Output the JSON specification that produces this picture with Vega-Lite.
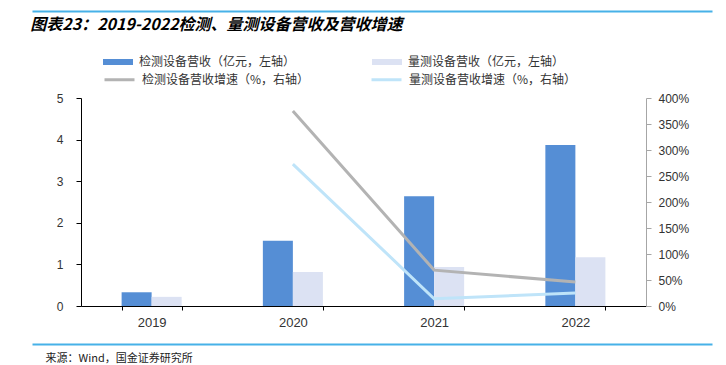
{
  "$schema": "https://vega.github.io/schema/vega-lite/v6.json",
  "width": 565,
  "height": 208,
  "autosize": "none",
  "padding": {"left": 81, "top": 98, "right": 80, "bottom": 59},
  "background": "white",
  "config": {"view": {"stroke": null}, "font": "Noto Sans CJK SC"},
  "title": {
    "text": "图表23：2019-2022检测、量测设备营收及营收增速",
    "anchor": "start",
    "font": "Noto Sans CJK SC",
    "fontSize": 16,
    "fontWeight": "bold",
    "fontStyle": "italic",
    "color": "#000000",
    "offset": 0,
    "dx": 1,
    "dy": 22
  },
  "datasets": {
    "bars": [
      {"year": "2019", "series": "检测设备营收（亿元，左轴）", "value": 0.33},
      {"year": "2019", "series": "量测设备营收（亿元，左轴）", "value": 0.22},
      {"year": "2020", "series": "检测设备营收（亿元，左轴）", "value": 1.57},
      {"year": "2020", "series": "量测设备营收（亿元，左轴）", "value": 0.82},
      {"year": "2021", "series": "检测设备营收（亿元，左轴）", "value": 2.64},
      {"year": "2021", "series": "量测设备营收（亿元，左轴）", "value": 0.94},
      {"year": "2022", "series": "检测设备营收（亿元，左轴）", "value": 3.87},
      {"year": "2022", "series": "量测设备营收（亿元，左轴）", "value": 1.17}
    ],
    "lines": [
      {"year": "2020", "series": "检测设备营收增速（%，右轴）", "growth": 3.75},
      {"year": "2021", "series": "检测设备营收增速（%，右轴）", "growth": 0.69},
      {"year": "2022", "series": "检测设备营收增速（%，右轴）", "growth": 0.46},
      {"year": "2020", "series": "量测设备营收增速（%，右轴）", "growth": 2.73},
      {"year": "2021", "series": "量测设备营收增速（%，右轴）", "growth": 0.14},
      {"year": "2022", "series": "量测设备营收增速（%，右轴）", "growth": 0.25}
    ],
    "frame": [{"p": 0}, {"p": 1}]
  },
  "layer": [
    {
      "layer": [
        {
          "data": {"name": "bars"},
          "mark": {"type": "bar"},
          "encoding": {
            "x": {
              "field": "year",
              "type": "nominal",
              "scale": {"paddingInner": 0.575, "paddingOuter": 0.2875},
              "axis": {
                "title": null,
                "labelAngle": 0,
                "labelFont": "Liberation Sans",
                "labelFontSize": 13,
                "labelColor": "#333333",
                "labelPadding": 6,
                "domainColor": "#000000",
                "tickColor": "#000000",
                "tickSize": 4,
                "tickBand": "extent",
                "grid": false
              }
            },
            "xOffset": {
              "field": "series",
              "sort": ["检测设备营收（亿元，左轴）", "量测设备营收（亿元，左轴）"],
              "scale": {"paddingInner": 0, "paddingOuter": 0}
            },
            "y": {
              "field": "value",
              "type": "quantitative",
              "scale": {"domain": [0, 5]},
              "axis": {
                "orient": "left",
                "title": null,
                "values": [0, 1, 2, 3, 4, 5],
                "labelFont": "Liberation Sans",
                "labelFontSize": 12,
                "labelColor": "#333333",
                "labelPadding": 13,
                "domainColor": "#000000",
                "tickColor": "#000000",
                "tickSize": 5,
                "grid": false
              }
            },
            "fill": {
              "field": "series",
              "type": "nominal",
              "scale": {
                "domain": ["检测设备营收（亿元，左轴）", "量测设备营收（亿元，左轴）"],
                "range": ["#558ED5", "#DCE2F3"]
              },
              "legend": {
                "orient": "none",
                "legendX": 22,
                "legendY": -51,
                "direction": "horizontal",
                "title": null,
                "padding": 0,
                "symbolType": "M-1,-0.2L1,-0.2L1,0.2L-1,0.2Z",
                "symbolSize": 900,
                "symbolStrokeWidth": 0,
                "labelFont": "Noto Sans CJK SC",
                "labelFontSize": 12,
                "labelColor": "#333333",
                "labelOffset": 6,
                "labelLimit": 300,
                "columnPadding": 76
              }
            }
          }
        },
        {
          "data": {"name": "lines"},
          "mark": {"type": "line", "strokeWidth": 3},
          "encoding": {
            "x": {"field": "year", "type": "nominal"},
            "y": {
              "field": "growth",
              "type": "quantitative",
              "scale": {"domain": [0, 4]},
              "axis": {
                "orient": "right",
                "title": null,
                "format": ".0%",
                "values": [0, 0.5, 1, 1.5, 2, 2.5, 3, 3.5, 4],
                "labelFont": "Liberation Sans",
                "labelFontSize": 12,
                "labelColor": "#333333",
                "labelPadding": 7,
                "domainColor": "#A6A6A6",
                "tickColor": "#A6A6A6",
                "tickSize": 5,
                "grid": false
              }
            },
            "stroke": {
              "field": "series",
              "type": "nominal",
              "scale": {
                "domain": ["检测设备营收增速（%，右轴）", "量测设备营收增速（%，右轴）"],
                "range": ["#B3B3B3", "#BFE4F9"]
              },
              "legend": {
                "orient": "none",
                "legendX": 22,
                "legendY": -35,
                "direction": "horizontal",
                "title": null,
                "padding": 0,
                "symbolType": "stroke",
                "symbolSize": 900,
                "symbolStrokeWidth": 3,
                "labelFont": "Noto Sans CJK SC",
                "labelFontSize": 12,
                "labelColor": "#333333",
                "labelOffset": 6,
                "labelLimit": 300,
                "columnPadding": 55
              }
            }
          }
        }
      ],
      "resolve": {"scale": {"y": "independent"}}
    },
    {
      "data": {"name": "frame"},
      "mark": {"type": "point", "opacity": 0},
      "encoding": {
        "x": {
          "field": "p",
          "type": "quantitative",
          "scale": {"domain": [0, 1], "range": [-49, 631], "nice": false, "zero": false},
          "axis": {
            "orient": "top",
            "offset": 87,
            "title": null,
            "labels": false,
            "ticks": false,
            "grid": false,
            "domainColor": "#47B1E8",
            "domainWidth": 2
          }
        }
      }
    },
    {
      "data": {"name": "frame"},
      "mark": {"type": "point", "opacity": 0},
      "encoding": {
        "x": {
          "field": "p",
          "type": "quantitative",
          "scale": {"domain": [0, 1], "range": [-49, 631], "nice": false, "zero": false},
          "axis": {
            "orient": "bottom",
            "offset": 38,
            "title": "来源：Wind，国金证券研究所",
            "titleX": -36,
            "titleY": 14,
            "titleAlign": "left",
            "titleAnchor": "start",
            "titleBaseline": "middle",
            "titleFont": "Noto Sans CJK SC",
            "titleFontSize": 11,
            "titleFontWeight": "normal",
            "titleColor": "#222222",
            "labels": false,
            "ticks": false,
            "grid": false,
            "domainColor": "#47B1E8",
            "domainWidth": 2
          }
        }
      }
    }
  ],
  "resolve": {"scale": {"x": "independent", "y": "independent"}, "axis": {"x": "independent"}}
}
